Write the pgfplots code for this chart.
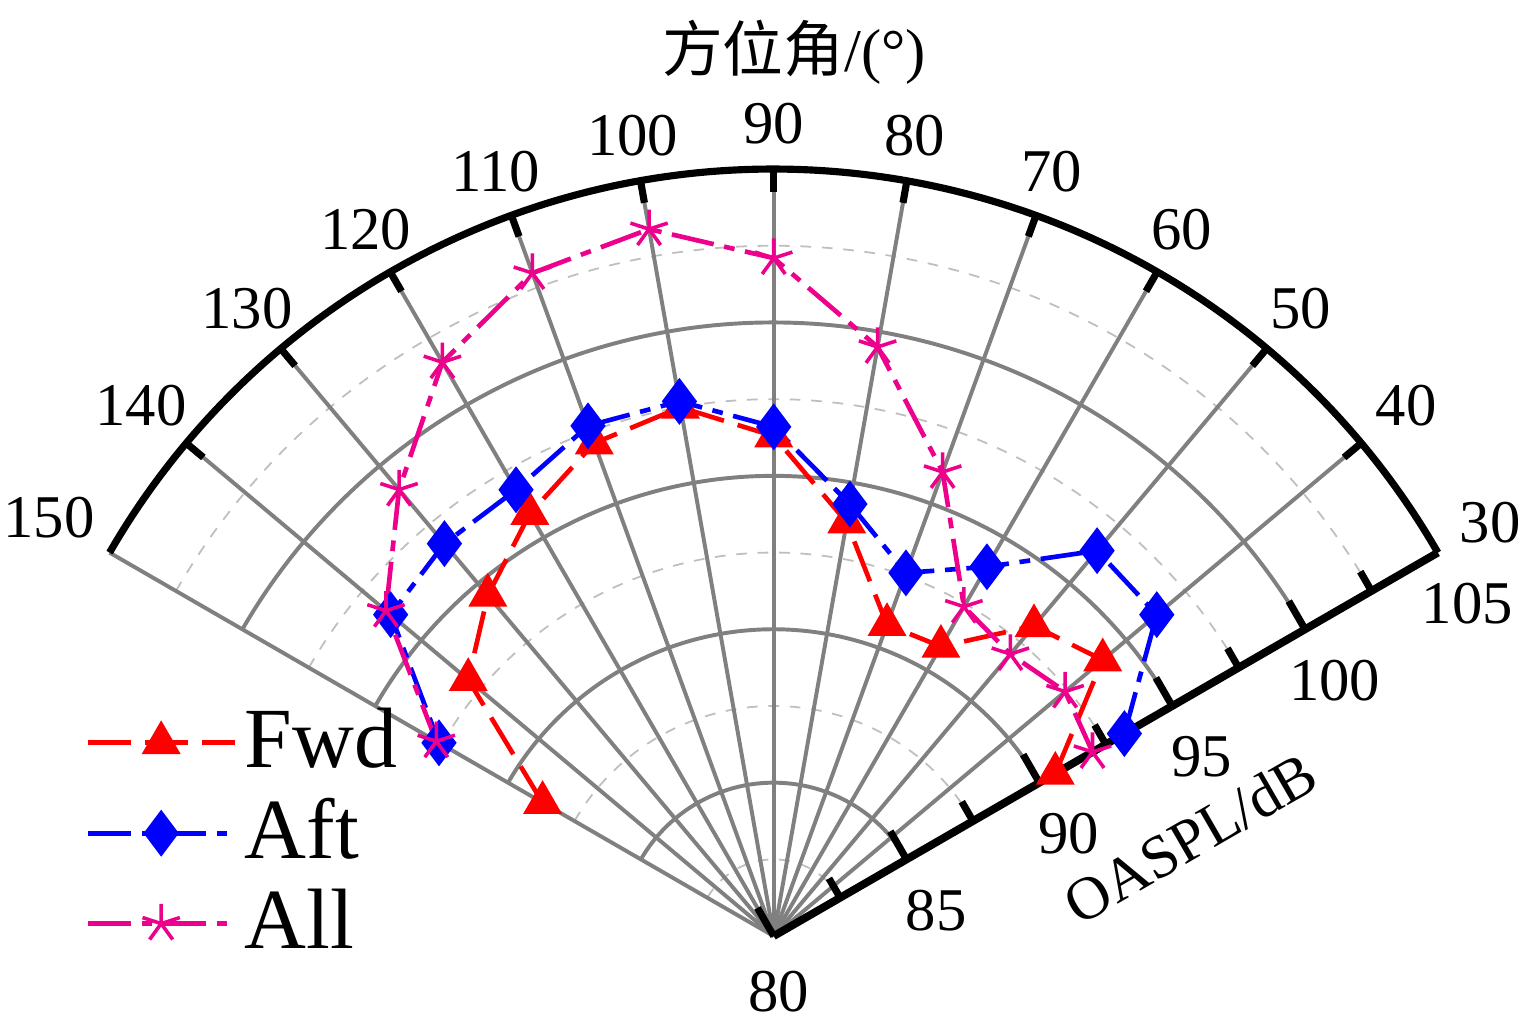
\documentclass[border=0pt]{standalone}
\usepackage{pgfplots}
\pgfplotsset{compat=1.18}
\usepackage{fontspec}
\setmainfont{Liberation Serif}
\newfontfamily\cjk{Noto Sans CJK SC}
\usetikzlibrary{plotmarks,calc}
\begin{document}
\fontsize{17}{20}\selectfont
\begin{tikzpicture}
\def\u{0.302}
% grid
\begin{scope}
\foreach \r in {82.5,87.5,92.5,97.5,102.5}{
 \draw[gray!50,dashed,line width=0.5pt] (30:{(\r-80)*\u cm}) arc[start angle=30,end angle=150,radius={(\r-80)*\u cm}];}
\foreach \r in {85,90,95,100}{
 \draw[gray,line width=1.1pt] (30:{(\r-80)*\u cm}) arc[start angle=30,end angle=150,radius={(\r-80)*\u cm}];}
\foreach \a in {40,50,...,150}{
 \draw[gray,line width=1.1pt] (0,0) -- (\a:{25*\u cm});}
\draw[black,line width=2pt] (30:{25*\u cm}) arc[start angle=30,end angle=150,radius={25*\u cm}];
\draw[black,line width=2.2pt] (0,0) -- (30:{25*\u cm});
\foreach \a in {40,50,...,140}{
 \draw[black,line width=2pt] (\a:{25*\u cm}) -- (\a:{25*\u cm-0.22cm});}
\foreach \r in {82.5,87.5,92.5,97.5,102.5}{
 \draw[black,line width=2pt] (30:{(\r-80)*\u cm}) -- ++(120:0.22cm);}
\foreach \r in {85,90,95,100}{
 \draw[black,line width=2pt] (30:{(\r-80)*\u cm}) -- ++(120:0.32cm);}
\draw[black,line width=2pt] (0,0) -- ++(120:0.32cm);
\foreach \a in {30,40,...,150}{
 \node[anchor={\a+180},inner sep=1pt] at (\a:7.75cm) {\a};}
\foreach \r in {85,90,95,100,105}{
 \node[anchor=120,inner sep=1pt] at ($(30:{(\r-80)*\u cm})+(-60:0.3cm)$) {\r};}
\node[rotate=30] at (4.1cm,0.96cm) {OASPL/dB};
\node at (0.05cm,-0.55cm) {80};
\node at (0.2cm,8.7cm) {{\cjk 方位角}/(°)};
\end{scope}
\begin{axis}[anchor=origin, at={(0,0)}, x=0.302cm, y=0.302cm,
 xmin=-25.5,xmax=25,ymin=-2.8,ymax=30.1, hide axis, clip=false,
 legend style={at={(axis cs:-22.8,-1.2)},anchor=south west,draw=none,fill=none,font=\fontsize{24}{28}\selectfont,row sep=2pt},
 legend cell align=left,
 legend image code/.code={\draw[mark repeat=2,mark phase=2,#1] plot coordinates {(0cm,0cm)(0.72cm,0cm)(1.45cm,0cm)};},
 every axis plot/.append style={line width=1.3pt}]
\addplot[red,dash pattern=on 12pt off 4pt,mark=triangle*,mark size=5pt,mark options={solid}]
 table[x expr={(\thisrow{r}-80)*cos(\thisrow{t})},y expr={(\thisrow{r}-80)*sin(\thisrow{t})}]{
t r
30 90.6
40 94.0
50 93.2
60 90.9
70 90.8
80 93.7
90 96.3
100 97.5
110 97.1
120 95.9
130 94.5
140 93.0
150 88.7
};
\addlegendentry{Fwd}
\addplot[blue,dash pattern=on 12pt off 3pt on 3pt off 3pt,mark=diamond*,mark size=5.5pt,mark options={solid}]
 table[x expr={(\thisrow{r}-80)*cos(\thisrow{t})},y expr={(\thisrow{r}-80)*sin(\thisrow{t})}]{
t r
30 93.2
40 96.3
50 96.4
60 93.9
70 92.6
80 94.3
90 96.6
100 97.7
110 97.7
120 96.8
130 96.7
140 96.3
150 92.6
};
\addlegendentry{Aft}
\addplot[magenta,dash pattern=on 12pt off 3pt on 3pt off 3pt,mark=star,mark size=5.5pt,mark options={solid,fill=magenta,line width=1pt}]
 table[x expr={(\thisrow{r}-80)*cos(\thisrow{t})},y expr={(\thisrow{r}-80)*sin(\thisrow{t})}]{
t r
30 92.0
40 92.4
50 92.0
60 92.4
70 96.1
80 99.5
90 102.1
100 103.4
110 103.0
120 101.6
130 99.0
140 96.5
150 92.7
};
\addlegendentry{All}
\end{axis}
\end{tikzpicture}
\end{document}
